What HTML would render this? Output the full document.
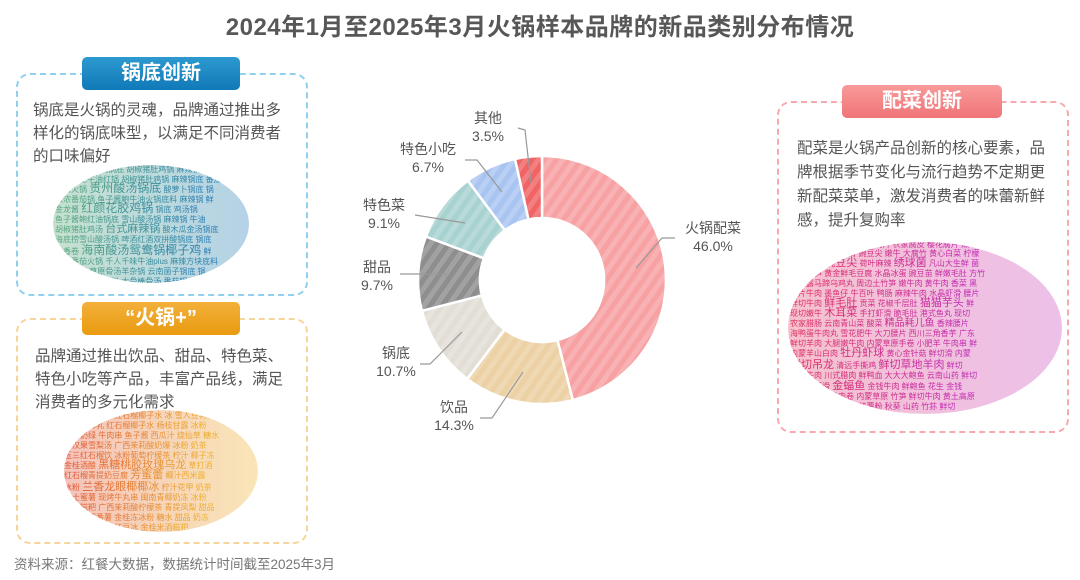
<!DOCTYPE html>
<html><head><meta charset="utf-8"><style>
body{margin:0;width:1080px;height:580px;background:#fff;overflow:hidden;position:relative;font-family:"Liberation Sans","Noto Sans CJK SC",sans-serif;color:#555}
.t{position:absolute;left:0;width:1080px;top:7px;text-align:center;font-size:24px;font-weight:bold;color:#575757;letter-spacing:0.5px}
.box{position:absolute;border:2px dashed;border-radius:14px}
.pill{position:absolute;height:33px;border-radius:5px;color:#fff;font-weight:bold;font-size:20px;text-align:center;line-height:33px}
.txt{position:absolute;font-size:15.5px;line-height:23px;color:#555;white-space:nowrap}
.foot{position:absolute;left:14px;top:553px;font-size:13.5px;color:#777}
svg{position:absolute;left:0;top:0}
</style></head><body>
<div class="t">2024年1月至2025年3月火锅样本品牌的新品类别分布情况</div>

<div class="box" style="left:16px;top:73px;width:288px;height:219px;border-color:#8fd0ee"></div>
<div class="pill" style="left:82px;top:57px;width:158px;background:linear-gradient(#2d9ad0,#1079b8)">锅底创新</div>
<div class="txt" style="left:33px;top:99px">锅底是火锅的灵魂，品牌通过推出多<br>样化的锅底味型，以满足不同消费者<br>的口味偏好</div>

<div class="box" style="left:16px;top:318px;width:288px;height:222px;border-color:#f6d59a"></div>
<div class="pill" style="left:82px;top:302px;width:158px;background:linear-gradient(#f3b03a,#e99a10)">“火锅+”</div>
<div class="txt" style="left:35px;top:345px">品牌通过推出饮品、甜品、特色菜、<br>特色小吃等产品，丰富产品线，满足<br>消费者的多元化需求</div>

<div class="box" style="left:777px;top:101px;width:288px;height:328px;border-color:#f8a9ae"></div>
<div class="pill" style="left:842px;top:85px;width:160px;background:linear-gradient(#f99a9a,#ef7477)">配菜创新</div>
<div class="txt" style="left:797px;top:137px;line-height:24px">配菜是火锅产品创新的核心要素，品<br>牌根据季节变化与流行趋势不定期更<br>新配菜菜单，激发消费者的味蕾新鲜<br>感，提升复购率</div>

<div class="foot">资料来源：红餐大数据，数据统计时间截至2025年3月</div>

<svg width="1080" height="580" font-family="Liberation Sans, Noto Sans CJK SC, sans-serif">
<defs>
<pattern id="st" width="10" height="10" patternUnits="userSpaceOnUse" patternTransform="rotate(35)"><rect width="5" height="10" fill="#fff" opacity="0.18"/></pattern>
<clipPath id="c1"><ellipse cx="151" cy="224" rx="98" ry="59"/></clipPath>
<clipPath id="c2"><ellipse cx="161" cy="471" rx="97" ry="61"/></clipPath>
<clipPath id="c3"><ellipse cx="925" cy="328" rx="137" ry="86"/></clipPath>
<linearGradient id="g1" x1="0" x2="1"><stop offset="0" stop-color="#5aa97a"/><stop offset="1" stop-color="#2a7fb8"/></linearGradient>
<linearGradient id="g2" x1="0" x2="1"><stop offset="0" stop-color="#e0553a"/><stop offset="1" stop-color="#eeb530"/></linearGradient>
<linearGradient id="g3" x1="0" x2="1"><stop offset="0" stop-color="#e0305e"/><stop offset="1" stop-color="#c02cb8"/></linearGradient>
</defs>

<g clip-path="url(#c1)">
<ellipse cx="151" cy="224" rx="98" ry="59" fill="url(#g1)" opacity="0.35"/>
<g fill="url(#g1)" font-size="8">
<text x="60" y="172">乌鸡番食美式锅底 胡椒猪肚鸡锅 麻辣锅 乌鸡番食</text>
<text x="55" y="182">蜜桃乌龙牛油红锅 胡椒猪肚鸡锅 麻辣锅底 番茄</text>
<text x="55" y="192">番茄火锅 <tspan font-size="12">贵州酸汤锅底</tspan> 酸萝卜锅底 锅</text>
<text x="55" y="202">浓浓番茄锅 鱼子酱鲍牛油火锅底料 麻辣锅 鲜</text>
<text x="55" y="212">金龙酱 <tspan font-size="12">红颜花胶鸡锅</tspan> 锅底 鸡汤锅</text>
<text x="55" y="222">鱼子酱鲍红油锅底 雪山酸汤锅 麻辣锅 牛油</text>
<text x="55" y="232">胡椒猪肚鸡汤 <tspan font-size="11">台式麻辣锅</tspan> 酸木瓜金汤锅底</text>
<text x="55" y="242">海底捞雪山酸汤锅 啤酒红酒双拼酸锅底 锅底</text>
<text x="55" y="254">春香卷 <tspan font-size="12">海南酸汤鸳鸯锅椰子鸡</tspan> 鲜</text>
<text x="55" y="264">鲜辣番茄火锅 千人千味牛油plus 麻辣方块底料</text>
<text x="55" y="274">番茄锅底 草原骨汤羊杂锅 云南菌子锅底 锅</text>
<text x="55" y="284">重庆特色地标底料 大骨棒骨汤 番茄锅</text>
</g></g>

<g clip-path="url(#c2)">
<ellipse cx="161" cy="471" rx="97" ry="61" fill="url(#g2)" opacity="0.35"/>
<g fill="url(#g2)" font-size="8">
<text x="64" y="418">雪人豆乳雪糕 红石榴椰子水 冰 雪人豆乳雪糕</text>
<text x="64" y="428">桃胶马蹄乳 红石榴椰子水 杨枝甘露 冰粉</text>
<text x="64" y="438">茉莉奶绿 牛肉串 鱼子酱 西瓜汁 烧仙草 糖水</text>
<text x="64" y="448">罗汉果雪梨汤 广西茉莉酸奶爆 冰粉 奶茶</text>
<text x="64" y="458">玉三红石榴饮 冰粉葡萄柠檬茶 柠汁 椰子冻</text>
<text x="64" y="468">金桂酒酿 <tspan font-size="11">黑糖桃胶玫瑰乌龙</tspan> 草打酒</text>
<text x="64" y="478">红石榴青提奶豆腐 <tspan font-size="11">芳蜜蕾</tspan> 椰汁西米露</text>
<text x="64" y="490">冰粉 <tspan font-size="11">兰香龙眼椰椰冰</tspan> 柠汁花甲 奶茶</text>
<text x="64" y="500">芝士蜜薯 现烤牛丸串 闽南青椰奶冻 冰粉</text>
<text x="64" y="510">金桂糍粑 广西茉莉酸柠檬茶 青提凤梨 甜品</text>
<text x="64" y="520">闽南青椰番薯 金桂冻冰粉 糖水 甜品 奶冻</text>
<text x="64" y="530">金桂米酒糍粑 红豆冰 金桂米酒糍粑</text>
</g></g>

<g clip-path="url(#c3)">
<ellipse cx="925" cy="328" rx="137" ry="86" fill="url(#g3)" opacity="0.3"/>
<g fill="url(#g3)" font-size="8">
<text x="790" y="247">樱花腐片 嫩牛肉 麻辣牛肉片 农家腐皮 樱花腐片 嫩牛肉</text>
<text x="790" y="256">黄心白菜 柠檬虾滑 豌豆尖 嫩牛 大腐竹 黄心白菜 柠檬</text>
<text x="790" y="266">菌菇拼盘 <tspan font-size="11">豌豆尖</tspan> 荷叶麻辣 <tspan font-size="11">绣球菌</tspan> 凡山大生鲜 菌</text>
<text x="790" y="276">方竹鲜笋 黄金鲜毛豆腐 水晶冰蛋 豌豆苗 鲜嫩毛肚 方竹</text>
<text x="790" y="286">黑松露马蹄乌鸡丸 周边土竹笋 嫩牛肉 黄牛肉 香菜 黑</text>
<text x="790" y="296">腰片牛肉 墨鱼仔 牛百叶 鸭肠 麻辣牛肉 水晶虾滑 腰片</text>
<text x="790" y="306">鲜切牛肉 <tspan font-size="11">鲜毛肚</tspan> 贡菜 花椒千层肚 <tspan font-size="11">猫猫芋头</tspan> 鲜</text>
<text x="790" y="316">现切嫩牛 <tspan font-size="11">木耳菜</tspan> 手打虾滑 脆毛肚 港式鱼丸 现切</text>
<text x="790" y="326">农家腊肠 云南青山菜 酸菜 <tspan font-size="10">精品耗儿鱼</tspan> 香辣腰片</text>
<text x="790" y="336">海鸭蛋牛肉丸 雪花肥牛 大刀腰片 西川三角香芋 广东</text>
<text x="790" y="346">鲜切羊肉 大腿嫩牛肉 内蒙草原手卷 小肥羊 牛肉串 鲜</text>
<text x="790" y="356">内蒙羊山白肉 <tspan font-size="11">牡丹虾球</tspan> 黄心金针菇 鲜切滑 内蒙</text>
<text x="790" y="368"><tspan font-size="11">鲜切吊龙</tspan> 清远手撕鸡 <tspan font-size="11">鲜切草地羊肉</tspan> 鲜切</text>
<text x="790" y="378">鲜切牛肉 川式腊肉 鲜鸭血 大大大鲍鱼 云南山药 鲜切</text>
<text x="790" y="389">金钱肚虾滑 <tspan font-size="11">金蝠鱼</tspan> 金钱牛肉 鲜鲍鱼 花生 金钱</text>
<text x="790" y="399">黄土高原滩羊肉卷 内蒙草原 竹笋 鲜切牛肉 黄土高原</text>
<text x="790" y="409">竹荪 鲜切手剪黄喉 红薯粉 秋葵 山药 竹荪 鲜切</text>
</g></g>

<g stroke="#fff" stroke-width="2.5">
<path d="M542,156 A124,124 0 0 1 572.8,400.1 L557.4,340.1 A62,62 0 0 0 542,218 Z" fill="#f7a1a3"/>
<path d="M572.8,400.1 A124,124 0 0 1 467.2,378.9 L504.6,329.5 A62,62 0 0 0 557.4,340.1 Z" fill="#ebd1a3"/>
<path d="M467.2,378.9 A124,124 0 0 1 421.9,310.8 L481.9,295.4 A62,62 0 0 0 504.6,329.5 Z" fill="#e2ded6"/>
<path d="M421.9,310.8 A124,124 0 0 1 425.9,236.5 L483.9,258.3 A62,62 0 0 0 481.9,295.4 Z" fill="#8e8e8e"/>
<path d="M425.9,236.5 A124,124 0 0 1 467.9,180.6 L504.9,230.3 A62,62 0 0 0 483.9,258.3 Z" fill="#a8d2d0"/>
<path d="M467.9,180.6 A124,124 0 0 1 515.0,159.0 L528.5,219.5 A62,62 0 0 0 504.9,230.3 Z" fill="#a9c4f0"/>
<path d="M515.0,159.0 A124,124 0 0 1 542,156 L542,218 A62,62 0 0 0 528.5,219.5 Z" fill="#f06464"/>
</g>
<circle cx="542" cy="280" r="124" fill="url(#st)"/>
<circle cx="542" cy="280" r="63" fill="#fff"/>

<g stroke="#999" stroke-width="1.2" fill="none">
<polyline points="636,268 662,238 675,238"/>
<polyline points="523,372 492,418 480,418"/>
<polyline points="462,332 430,364 420,364"/>
<polyline points="447,274 400,274"/>
<polyline points="465,223 415,215"/>
<polyline points="502,192 477,160 465,160"/>
<polyline points="531,183 525,130 518,128"/>
</g>
<g font-size="14" fill="#555" text-anchor="middle">
<text x="713" y="233">火锅配菜</text><text x="713" y="251">46.0%</text>
<text x="454" y="412">饮品</text><text x="454" y="430">14.3%</text>
<text x="396" y="358">锅底</text><text x="396" y="376">10.7%</text>
<text x="377" y="272">甜品</text><text x="377" y="290">9.7%</text>
<text x="384" y="210">特色菜</text><text x="384" y="228">9.1%</text>
<text x="428" y="154">特色小吃</text><text x="428" y="172">6.7%</text>
<text x="488" y="123">其他</text><text x="488" y="141">3.5%</text>
</g>
</svg>
</body></html>
